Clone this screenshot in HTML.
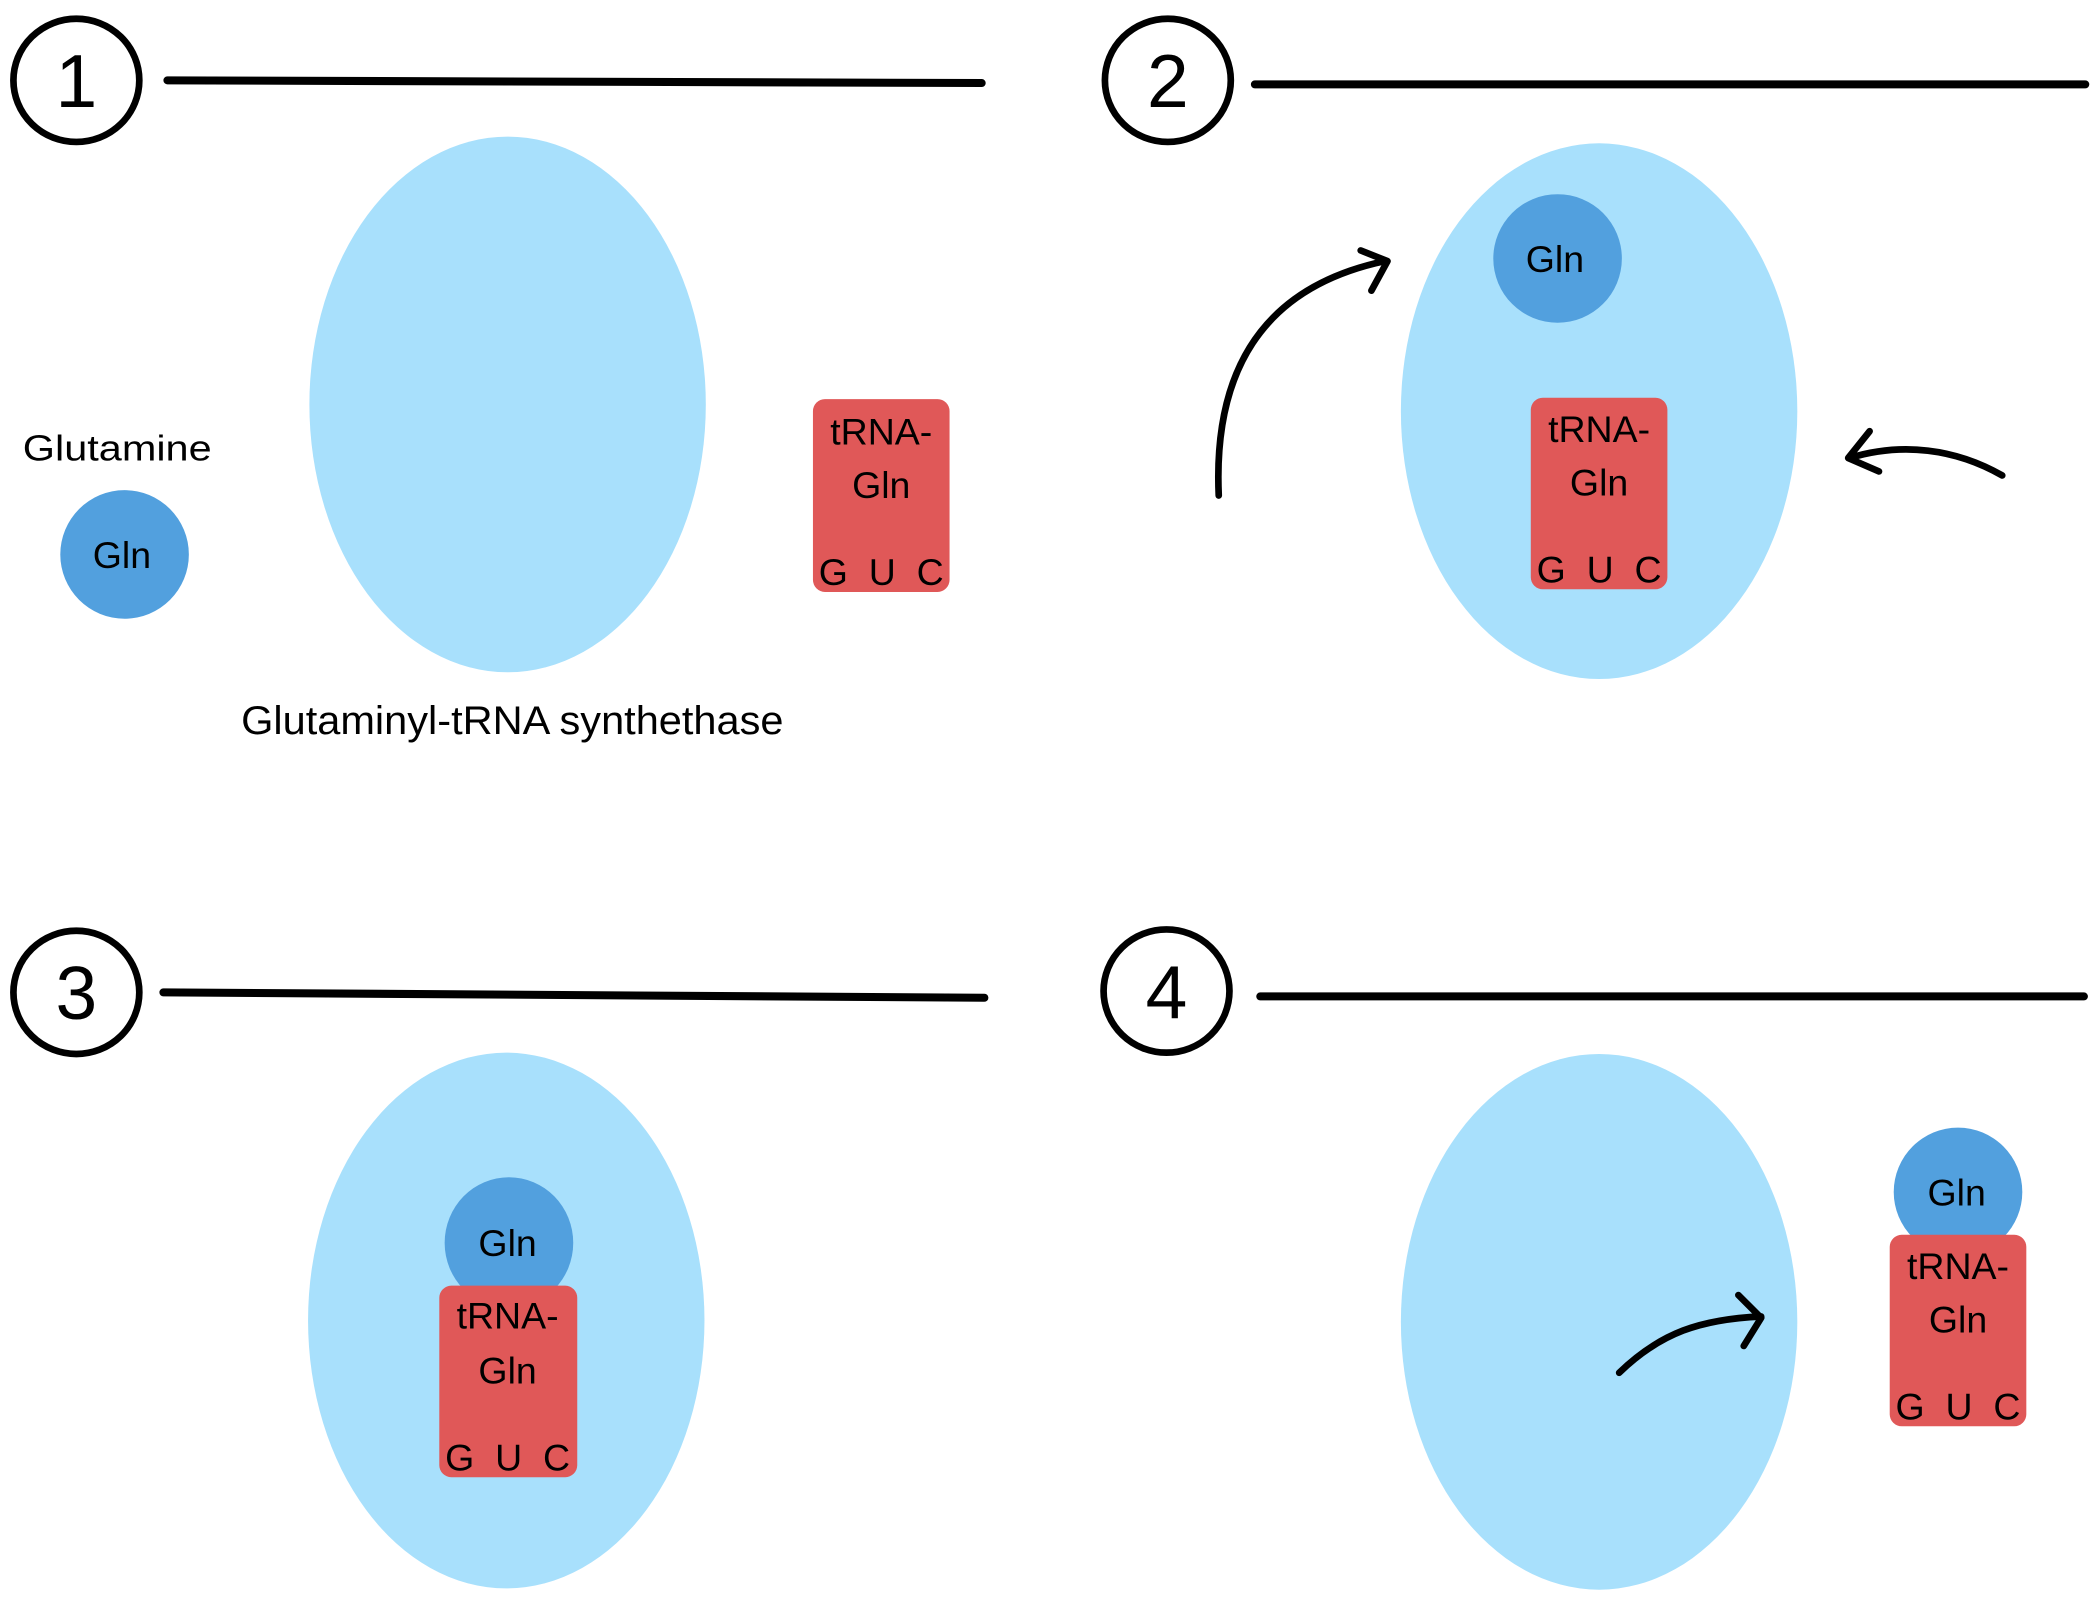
<!DOCTYPE html>
<html><head><meta charset="utf-8"><style>
html,body{margin:0;padding:0;background:#fff;}
svg{display:block;}
text{font-family:"Liberation Sans","DejaVu Sans",sans-serif;fill:#000;}
</style></head><body>
<svg width="2100" height="1613" viewBox="0 0 1568 1204.4" xmlns="http://www.w3.org/2000/svg">
<g fill="none" stroke="#000" stroke-width="5" stroke-linecap="round">
<ellipse cx="57" cy="60" rx="47" ry="46"/>
<ellipse cx="872" cy="60" rx="47" ry="46"/>
<ellipse cx="57" cy="741" rx="47" ry="46"/>
<ellipse cx="871" cy="740" rx="47" ry="46"/>
<path d="M125 60 L733 62" stroke-width="6"/>
<path d="M937 63 L1557 63" stroke-width="6"/>
<path d="M122 741 L735 745" stroke-width="6"/>
<path d="M941 744 L1556 744" stroke-width="6"/>
</g>
<g font-size="56" text-anchor="middle">
<text x="57" y="80">1</text>
<text x="872" y="80">2</text>
<text x="57" y="761">3</text>
<text x="871" y="760">4</text>
</g>
<g fill="#a8e0fc">
<ellipse cx="379" cy="302" rx="148" ry="200"/>
<ellipse cx="1194" cy="307" rx="148" ry="200"/>
<ellipse cx="378" cy="986" rx="148" ry="200"/>
<ellipse cx="1194" cy="987" rx="148" ry="200"/>
</g>
<g fill="#e05858">
<rect x="607" y="298" width="102" height="144" rx="9"/>
<rect x="1143" y="297" width="102" height="143" rx="9"/>
</g>
<g fill="#52a0de">
<circle cx="93" cy="414" r="48"/>
<circle cx="1163" cy="193" r="48"/>
<ellipse cx="380" cy="928" rx="48" ry="49"/>
<circle cx="1462" cy="890" r="48"/>
</g>
<rect x="328" y="960" width="103" height="143" rx="9" fill="#e05858"/>
<rect x="1411" y="922" width="102" height="143" rx="9" fill="#e05858"/>
<g font-size="28" text-anchor="middle">
<text x="91" y="424">Gln</text>
<text x="1161" y="203">Gln</text>
<text x="379" y="938">Gln</text>
<text x="1461" y="900">Gln</text>
<text x="658" y="332">tRNA-</text><text x="658" y="372">Gln</text><text x="658" y="437">G&#160;&#160;U&#160;&#160;C</text>
<text x="1194" y="330">tRNA-</text><text x="1194" y="370">Gln</text><text x="1194" y="435">G&#160;&#160;U&#160;&#160;C</text>
<text x="379" y="992">tRNA-</text><text x="379" y="1033">Gln</text><text x="379" y="1098">G&#160;&#160;U&#160;&#160;C</text>
<text x="1462" y="955">tRNA-</text><text x="1462" y="995">Gln</text><text x="1462" y="1060">G&#160;&#160;U&#160;&#160;C</text>
</g>
<text x="17" y="344" font-size="27" textLength="141" lengthAdjust="spacingAndGlyphs">Glutamine</text>
<text x="180" y="548" font-size="30" textLength="405" lengthAdjust="spacingAndGlyphs">Glutaminyl-tRNA synthethase</text>
<g fill="none" stroke="#000" stroke-width="5" stroke-linecap="round" stroke-linejoin="round">
<path d="M910 370 C906 280 940 215 1034 195"/>
<path d="M1016 187 L1036 195 L1024 217"/>
<path d="M1495 355 C1460 335 1420 330 1381 342"/>
<path d="M1396 322 L1380 342 L1403 352"/>
<path d="M1209 1025 C1240 995 1270 985 1315 983"/>
<path d="M1298 967 L1315 984 L1302 1005"/>
</g>
</svg>
</body></html>
